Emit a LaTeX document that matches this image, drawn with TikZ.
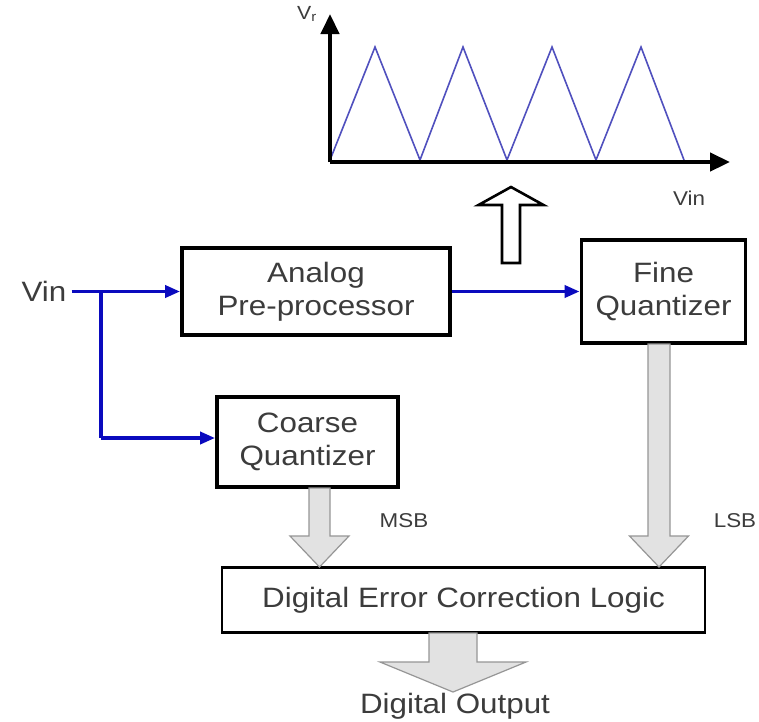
\documentclass[tikz,border=0pt]{standalone}
\usepackage{fontspec}
\setmainfont{Liberation Sans}[FakeStretch=1.12]
\usetikzlibrary{arrows.meta,calc}

\definecolor{txt}{RGB}{60,60,60}
\definecolor{sig}{RGB}{10,10,190}
\definecolor{wave}{RGB}{80,80,190}
\definecolor{bus}{RGB}{226,226,226}
\definecolor{busedge}{RGB}{150,150,150}

\tikzset{
  block/.style={draw=black, line width=3.8pt, fill=white, align=center,
    text=txt, font=\fontsize{28}{33}\selectfont, inner sep=0pt},
  signal/.style={draw=sig, line width=3.6pt,
    -{Triangle[length=15pt,width=12pt]}},
  axis/.style={draw=black, line width=4.5pt,
    -{Triangle[length=20pt,width=18pt]}},
  fatarrow/.style={fill=bus, draw=busedge, line width=1.2pt, line join=miter},
  label/.style={text=txt, inner sep=0pt},
}

% vertical block arrow pointing down: centre x, top y, shaft half width,
% head base y, head half width, tip y
\newcommand{\downblock}[6]{%
  \filldraw[fatarrow] ({#1-#3},#2) -- ({#1+#3},#2) -- ({#1+#3},#4)
    -- ({#1+#5},#4) -- (#1,#6) -- ({#1-#5},#4) -- ({#1-#3},#4) -- cycle;}

\begin{document}
\begin{tikzpicture}[x=1pt, y=-1pt]
\path[use as bounding box, fill=white] (0,0) rectangle (759,721);

% transfer characteristic of the pre-processor
\draw[wave, line width=1.6pt, line join=miter]
  (330,160) -- (375,47) -- (420,160) -- (463,47) -- (507,160)
  -- (552,47) -- (596,160) -- (641,47) -- (684,160);
\coordinate (origin) at (330,162);
\coordinate (ytip) at (330,14);
\coordinate (xtip) at (730,162);
\draw[axis] (origin) -- (ytip);
\draw[axis] (origin) -- (xtip);
\node[label, font=\fontsize{19}{22}\selectfont] (vr) at (307,14) {V\textsubscript{r}};
\node[label, font=\fontsize{20}{24}\selectfont] (vinx) at (689,198) {Vin};

% hollow arrow pointing to the plot
\draw[line width=2.6pt, fill=white, line join=miter]
  (502,263) -- (520,263) -- (520,205) -- (543.5,205) -- (511,187)
  -- (478.5,205) -- (502,205) -- cycle;

% blocks
\node[block, minimum width=268pt, minimum height=87pt] (ana) at (316,291.5)
  {Analog\\Pre-processor};
\node[block, minimum width=164pt, minimum height=103pt] (fine) at (663.5,291.5)
  {Fine\\Quantizer};
\node[block, minimum width=181pt, minimum height=90pt] (coarse) at (307.5,442)
  {Coarse\\Quantizer};
\node[block, line width=2.8pt, minimum width=483pt, minimum height=65pt]
  (dec) at (463.5,600) {Digital Error Correction Logic};

% analog input
\node[label, font=\fontsize{28}{33}\selectfont] (vin) at (44,291.5) {Vin};
\coordinate (split) at (101,291.5);
\draw[signal] ([xshift=5pt]vin.east) -- (ana.west);
\draw[signal, -] (split) -- (101,438);
\draw[signal] (101,438) -- (coarse.west |- 0,438);
\draw[signal] (ana.east) -- (fine.west);

% digital buses
\downblock{319.5}{488}{10.5}{536}{29.5}{567}
\downblock{659}{344}{11}{536}{29.5}{567}
\downblock{453}{633}{24}{662}{73}{692}
\node[label, font=\fontsize{20}{24}\selectfont] (msb) at (404,521) {MSB};
\node[label, font=\fontsize{20}{24}\selectfont] (lsb) at (735,521) {LSB};
\node[label, font=\fontsize{28}{33}\selectfont] (out) at (455,706) {Digital Output};
\end{tikzpicture}
\end{document}
